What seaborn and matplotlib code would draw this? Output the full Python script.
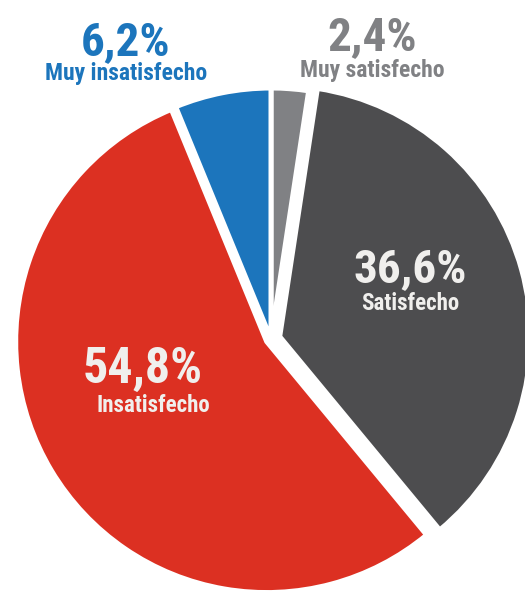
import matplotlib
matplotlib.use("Agg")
import matplotlib.pyplot as plt
import seaborn as sns

# datos de la encuesta (orden horario desde arriba)
categorias = ["Muy satisfecho", "Satisfecho", "Insatisfecho", "Muy insatisfecho"]
porcentajes = [2.4, 36.6, 54.8, 6.2]
etiquetas_pct = ["2,4%", "36,6%", "54,8%", "6,2%"]
colores = ["#808184", "#4d4d4f", "#dc3022", "#1c75bc"]
separacion = [0.0, 0.036, 0.02, 0.0]

sns.set_theme(style="white")
plt.rcParams["font.family"] = ["Roboto Condensed", "Liberation Sans", "DejaVu Sans"]

fig = plt.figure(figsize=(5.25, 5.91), dpi=100)
ax = fig.add_axes([0, 0, 1, 1])

ax.pie(
    porcentajes,
    colors=colores,
    explode=separacion,
    startangle=90,
    counterclock=False,
    radius=1.0,
    wedgeprops=dict(edgecolor="white", linewidth=3.6, joinstyle="round"),
)
ax.set_xlim(-1.0797, 1.0120)
ax.set_ylim(-1.0040, 1.3506)
ax.set_aspect("equal")
ax.axis("off")

# textos: (x, y base del porcentaje, y base de la categoria, color, tamanos)
blanco = "#f0efed"
textos = {
    "Muy satisfecho": (0.709, 0.915, 0.870, "#808184", 34, 17),
    "Satisfecho": (0.781, 0.523, 0.475, blanco, 34, 16.5),
    "Insatisfecho": (0.272, 0.352, 0.303, blanco, 36, 16.5),
    "Muy insatisfecho": (0.240, 0.907, 0.865, "#1c75bc", 34, 17),
}

for cat, pct in zip(categorias, etiquetas_pct):
    x, y1, y2, col, s1, s2 = textos[cat]
    ax.text(x, y1, pct, transform=ax.transAxes, ha="center", va="baseline",
            fontsize=s1, fontweight="bold", color=col)
    x2 = x + 0.02 if cat == "Insatisfecho" else x
    ax.text(x2, y2, cat, transform=ax.transAxes, ha="center", va="baseline",
            fontsize=s2, fontweight="bold", color=col)

fig.savefig("out.png", dpi=100, facecolor="white")
